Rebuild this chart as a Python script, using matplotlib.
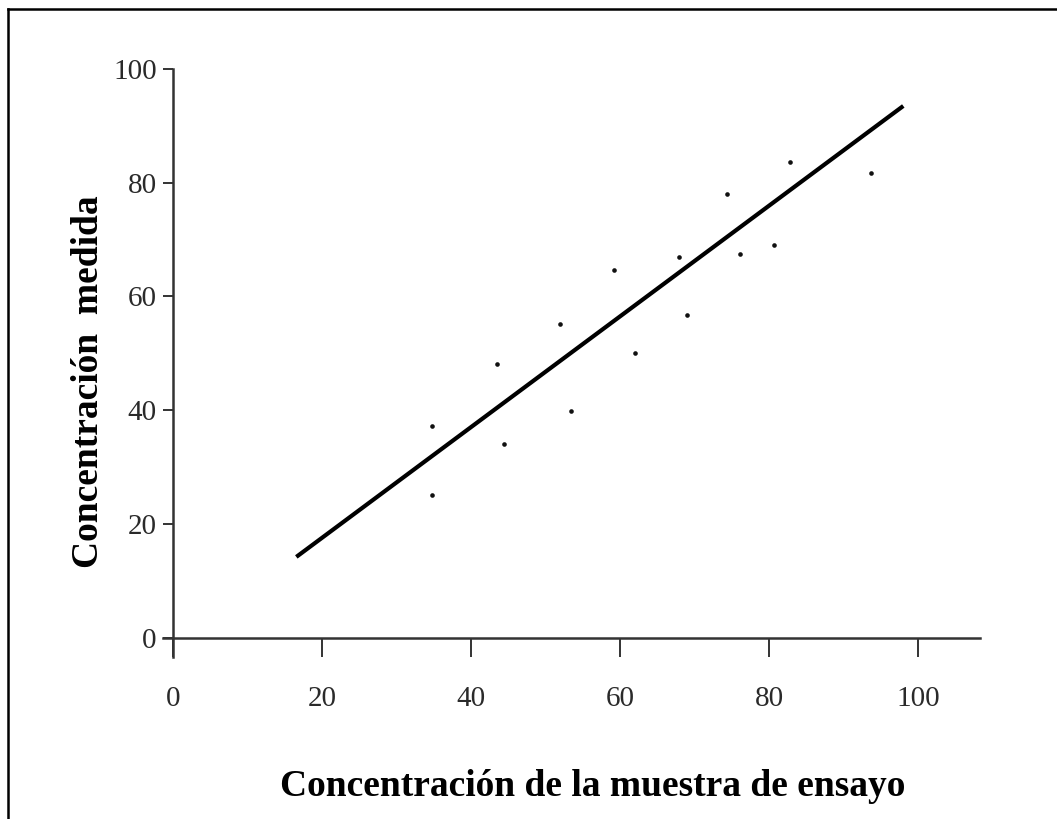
import matplotlib
matplotlib.use("Agg")
import matplotlib.pyplot as plt
from matplotlib.lines import Line2D

# valores
muestra_x = [34.7, 34.7, 43.5, 44.4, 51.9, 53.4, 59.2, 62.0, 67.9, 68.9,
             74.3, 76.1, 80.7, 82.8, 93.7]
medida_y = [37.3, 25.0, 48.2, 34.1, 55.1, 39.9, 64.6, 50.0, 67.0, 56.7,
            78.1, 67.4, 69.0, 83.7, 81.7]
recta_x = [16.5, 98.0]
recta_y = [14.2, 93.5]
ticks = [0, 20, 40, 60, 80, 100]

plt.rcParams['font.family'] = ['Liberation Serif', 'DejaVu Serif']

fig = plt.figure(figsize=(10.57, 8.19), dpi=100)
ax = fig.add_axes([163 / 1057, 1 - 657 / 819, (980 - 163) / 1057, (657 - 69) / 819])

ax.scatter(muestra_x, medida_y, s=11, marker='o', color='#111111', linewidths=0, zorder=3)
ax.plot(recta_x, recta_y, color='black', linewidth=3.0, solid_capstyle='butt')

ax.set_xlim(-1.4, 108.3)
ax.set_ylim(-3.4, 100)
ax.spines['left'].set_position(('data', 0))
ax.spines['bottom'].set_position(('data', 0))
ax.spines['top'].set_visible(False)
ax.spines['right'].set_visible(False)
for s in ('left', 'bottom'):
    ax.spines[s].set_linewidth(1.8)
    ax.spines[s].set_color('#333333')

ax.set_xticks(ticks)
ax.set_yticks(ticks)
ax.tick_params(axis='x', direction='out', length=13.5, width=1.4, pad=21,
               labelsize=21, colors='#333333', labelcolor='#2a2a2a')
ax.tick_params(axis='y', direction='out', length=7, width=1.4, pad=5,
               labelsize=21, colors='#333333', labelcolor='#2a2a2a')

fig.text(593 / 1057, 1 - 787 / 819, 'Concentración de la muestra de ensayo',
         ha='center', va='center', fontsize=27, fontweight='bold')
fig.text(88 / 1057, 1 - 382 / 819, 'Concentración  medida', rotation=90,
         ha='center', va='center', fontsize=27, fontweight='bold')

# marco de la pagina (solo izquierda y arriba visibles)
x0, y0 = 7.5 / 1057, 1 - 8.5 / 819
fig.lines.append(Line2D([x0, x0], [0, y0], transform=fig.transFigure,
                        color='black', linewidth=1.8))
fig.lines.append(Line2D([x0, 1], [y0, y0], transform=fig.transFigure,
                        color='black', linewidth=1.8))

fig.savefig('out.png', dpi=100)
